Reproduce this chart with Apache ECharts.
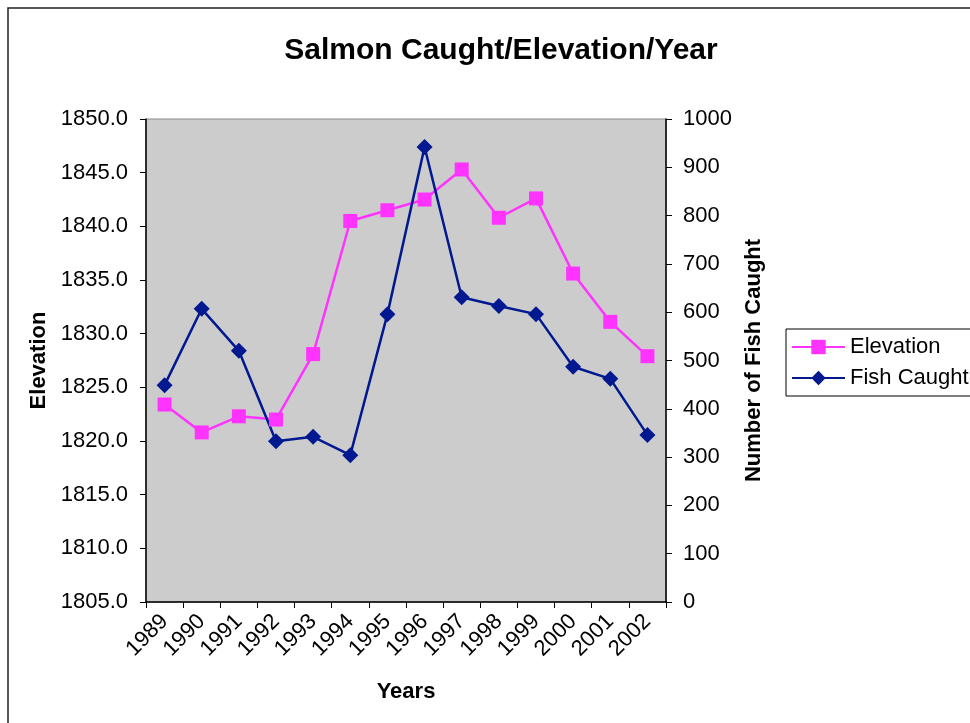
<!DOCTYPE html>
<html>
<head>
<meta charset="utf-8">
<script src="https://cdn.jsdelivr.net/npm/echarts@6/dist/echarts.min.js"></script>
<style>
  html, body { margin: 0; padding: 0; background: #fff; }
  #chart { width: 970px; height: 723px; }
</style>
</head>
<body>
<div id="chart"></div>
<script>
// data
var years = ['1989', '1990', '1991', '1992', '1993', '1994', '1995', '1996', '1997', '1998', '1999', '2000', '2001', '2002']
var elevation = [1823.4, 1820.8, 1822.3, 1822.0, 1828.1, 1840.5, 1841.5, 1842.5, 1845.3, 1840.8, 1842.6, 1835.6, 1831.1, 1827.9]
var fishCaught = [449, 607, 520, 333, 342, 304, 596, 942, 631, 613, 596, 487, 462, 346]

var font = 'Liberation Sans, Arial, sans-serif'
var chart = echarts.init(document.getElementById('chart'))

chart.setOption({
  backgroundColor: '#fff',
  animation: false,
  textStyle: { fontFamily: font },
  title: {
    text: 'Salmon Caught/Elevation/Year',
    left: 496,
    textAlign: 'center',
    top: 31,
    textStyle: { fontSize: 30, fontWeight: 'bold', color: '#000', fontFamily: font }
  },
  graphic: [{
    type: 'rect',
    shape: { x: 8, y: 8, width: 1000, height: 1000 },
    style: { fill: 'none', stroke: '#222', lineWidth: 1.5 },
    silent: true
  }],
  legend: {
    orient: 'vertical',
    left: 786,
    top: 329,
    padding: [7, 6, 7, 5],
    itemGap: 9,
    itemWidth: 53,
    itemHeight: 18,
    borderColor: '#000',
    borderWidth: 1,
    textStyle: { fontSize: 22, color: '#000', fontFamily: font },
    data: ['Elevation', 'Fish Caught']
  },
  grid: {
    left: 146, right: 304, top: 119, bottom: 121,
    show: true,
    backgroundColor: '#cccccc',
    borderColor: '#888',
    borderWidth: 1
  },
  xAxis: {
    type: 'category',
    data: years,
    boundaryGap: true,
    name: 'Years',
    nameLocation: 'middle',
    nameGap: 79,
    nameTextStyle: { fontSize: 22, fontWeight: 'bold', color: '#000' },
    axisLine: { lineStyle: { color: '#000', width: 1.5 } },
    axisTick: { show: true, length: 6, lineStyle: { color: '#000' } },
    axisLabel: { rotate: 45, fontSize: 22, color: '#000', margin: 16, interval: 0 },
    splitLine: { show: false }
  },
  yAxis: [{
    type: 'value',
    min: 1805, max: 1850, interval: 5,
    position: 'left',
    name: 'Elevation',
    nameLocation: 'middle',
    nameGap: 93,
    nameTextStyle: { fontSize: 22, fontWeight: 'bold', color: '#000' },
    axisLine: { show: true, lineStyle: { color: '#000', width: 1.5 } },
    axisTick: { show: true, length: 6, lineStyle: { color: '#000' } },
    axisLabel: { fontSize: 22, color: '#000', margin: 18, formatter: function (v) { return v.toFixed(1) } },
    splitLine: { show: false }
  }, {
    type: 'value',
    min: 0, max: 1000, interval: 100,
    position: 'right',
    name: 'Number of Fish Caught',
    nameLocation: 'middle',
    nameGap: 75,
    nameRotate: 90,
    nameTextStyle: { fontSize: 22, fontWeight: 'bold', color: '#000' },
    axisLine: { show: true, lineStyle: { color: '#000', width: 1.5 } },
    axisTick: { show: true, length: 6, lineStyle: { color: '#000' } },
    axisLabel: { fontSize: 22, color: '#000', margin: 17, formatter: function (v) { return String(v) } },
    splitLine: { show: false }
  }],
  series: [{
    name: 'Elevation',
    type: 'line',
    yAxisIndex: 0,
    data: elevation,
    symbol: 'rect',
    symbolSize: 14,
    itemStyle: { color: '#ff33ff' },
    lineStyle: { color: '#ff33ff', width: 2.5 }
  }, {
    name: 'Fish Caught',
    type: 'line',
    yAxisIndex: 1,
    data: fishCaught,
    symbol: 'diamond',
    symbolSize: 16,
    itemStyle: { color: '#001890' },
    lineStyle: { color: '#001890', width: 2.5 }
  }]
})
</script>
</body>
</html>
